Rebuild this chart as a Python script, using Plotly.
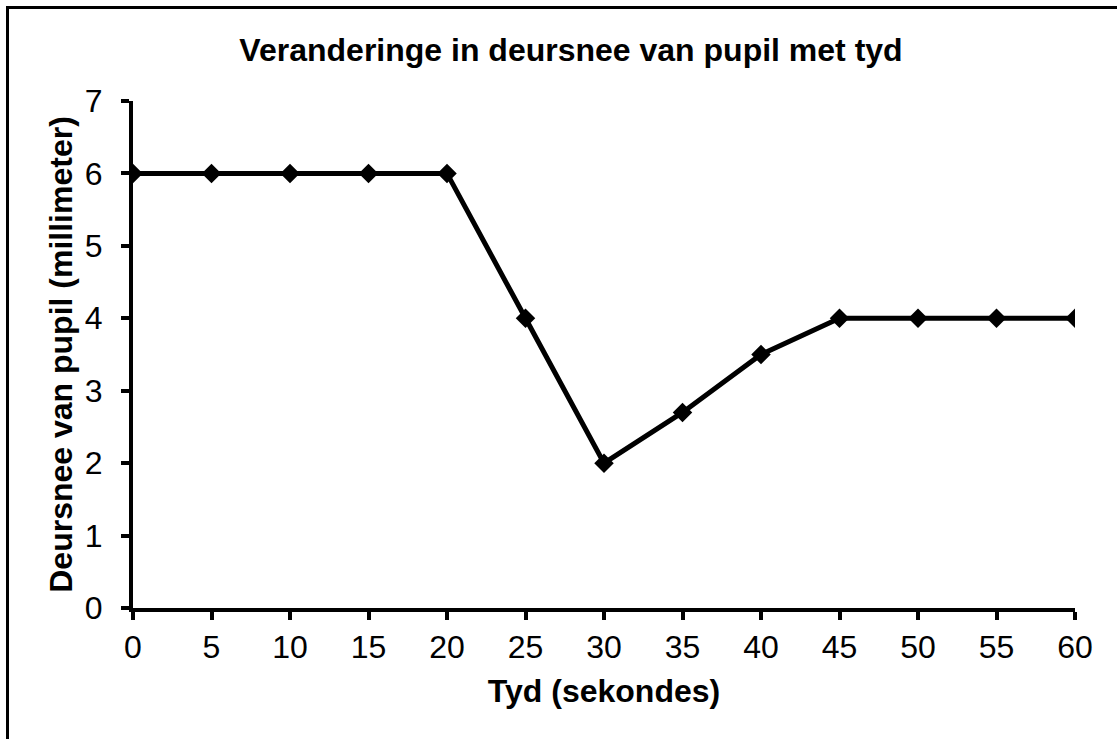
import plotly.graph_objects as go

time_s = [0, 5, 10, 15, 20, 25, 30, 35, 40, 45, 50, 55, 60]
diameter_mm = [6, 6, 6, 6, 6, 4, 2, 2.7, 3.5, 4, 4, 4, 4]

title_text = "Veranderinge in deursnee van pupil met tyd"
x_title = "Tyd (sekondes)"
y_title = "Deursnee van pupil (millimeter)"

FONT = "Liberation Sans, Arial, sans-serif"
FS = 32

fig = go.Figure()
fig.add_trace(go.Scatter(
    x=time_s, y=diameter_mm, mode="lines+markers",
    line=dict(color="black", width=5),
    marker=dict(symbol="diamond", size=15, color="black"),
    hoverinfo="skip", showlegend=False,
))

L, R, T, B = 133, 42, 101, 131
W, H = 1117, 739
pw, ph = W - L - R, H - T - B

fig.update_layout(
    width=W, height=H,
    margin=dict(l=L, r=R, t=T, b=B),
    paper_bgcolor="white", plot_bgcolor="white",
    font=dict(family=FONT, color="black"),
    title=dict(text="<b>" + title_text + "</b>", x=(571 - L) / pw, xref="paper",
               xanchor="center", y=1 - 50 / H, yanchor="middle",
               font=dict(size=FS, family=FONT, color="black")),
    xaxis=dict(range=[0, 60], tick0=0, dtick=5, showgrid=False, zeroline=False,
               showline=True, linecolor="black", linewidth=4,
               ticks="outside", ticklen=8, tickwidth=4, tickcolor="black",
               tickfont=dict(size=FS, family=FONT, color="black"),
               title=dict(text="<b>" + x_title + "</b>", standoff=16,
                          font=dict(size=FS, family=FONT, color="black"))),
    yaxis=dict(range=[0, 7], tick0=0, dtick=1, showgrid=False, zeroline=False,
               showline=True, linecolor="black", linewidth=4,
               ticks="outside", ticklen=8, tickwidth=4, tickcolor="black",
               ticklabelstandoff=12,
               tickfont=dict(size=FS, family=FONT, color="black"),
               title=dict(text="<b>" + y_title + "</b>", standoff=4,
                          font=dict(size=FS, family=FONT, color="black"))),
)

# outer frame (only top and left edges visible in the picture)
fx = (7.5 - L) / pw
fy = (H - B - 7.5) / ph
fig.add_shape(type="rect", xref="paper", yref="paper",
              x0=fx, x1=3, y0=-3, y1=fy,
              line=dict(color="black", width=3), fillcolor="rgba(0,0,0,0)", layer="below")

fig.write_html("out.html", config={"displayModeBar": False},
               post_script="document.body.style.margin='0';document.body.style.overflow='hidden';")
